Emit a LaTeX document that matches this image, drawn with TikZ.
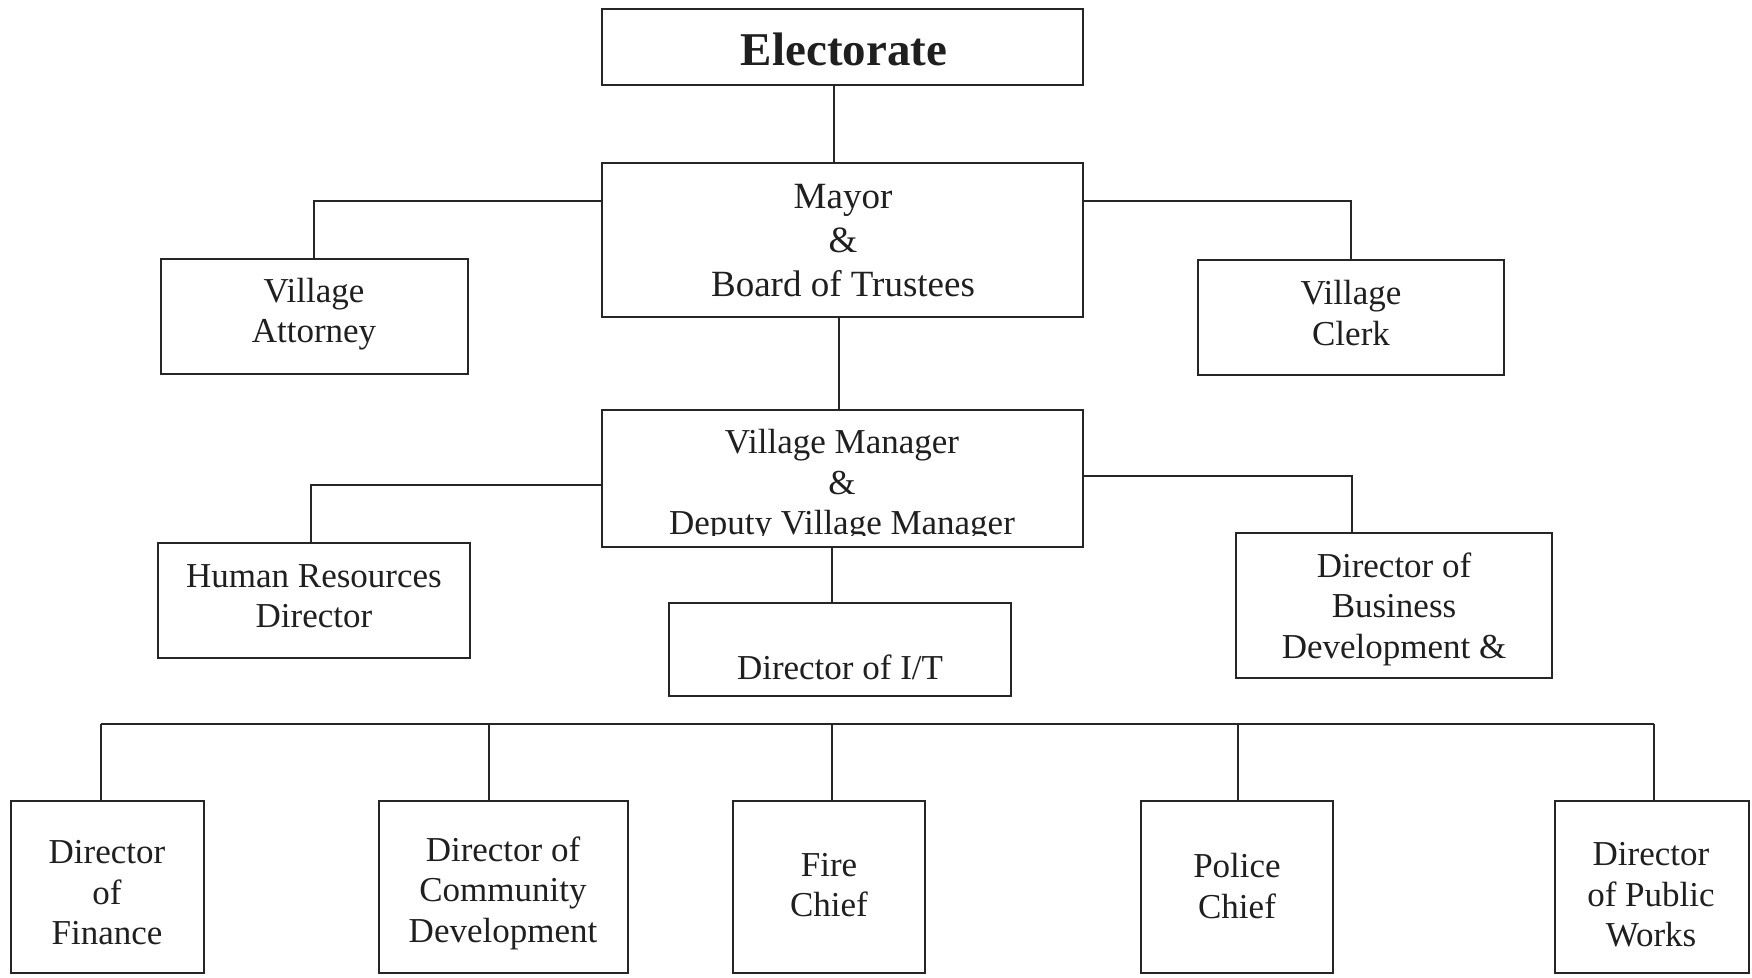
\documentclass[tikz,border=0pt]{standalone}
\usepackage{fontspec}
\setmainfont{Liberation Serif}
\begin{document}
\begin{tikzpicture}[x=1pt,y=-1pt,
  box/.style={draw=black!85, line width=1.7pt, rectangle, inner sep=0pt},
  lbl/.style={align=center, inner sep=0pt, text=black!88,
     font=\fontsize{35}{40.5}\selectfont},
  link/.style={draw=black!85, line width=1.3pt}]
\useasboundingbox (0,0) rectangle (1752,977);
% boxes
\node[box, minimum width=481pt, minimum height=76pt]  (elect)  at (842.5,47) {};
\node[box, minimum width=481pt, minimum height=154pt] (mayor)  at (842.5,240) {};
\node[box, minimum width=307pt, minimum height=115pt] (atty)   at (314.5,316.5) {};
\node[box, minimum width=306pt, minimum height=115pt] (clerk)  at (1351,317.5) {};
\node[box, minimum width=481pt, minimum height=137pt] (vm)     at (842.5,478.5) {};
\node[box, minimum width=312pt, minimum height=115pt] (hr)     at (314,600.5) {};
\node[box, minimum width=342pt, minimum height=93pt]  (it)     at (840,649.5) {};
\node[box, minimum width=316pt, minimum height=145pt] (bd)     at (1394,605.5) {};
\node[box, minimum width=193pt, minimum height=172pt] (fin)    at (107.5,887) {};
\node[box, minimum width=249pt, minimum height=172pt] (cd)     at (503.5,887) {};
\node[box, minimum width=192pt, minimum height=172pt] (fire)   at (829,887) {};
\node[box, minimum width=192pt, minimum height=172pt] (police) at (1237,887) {};
\node[box, minimum width=194pt, minimum height=172pt] (pw)     at (1652,887) {};
% texts
\node[lbl, font=\fontsize{47}{50}\selectfont\bfseries] (telect) at (844,49) {Electorate};
\node[lbl, font=\fontsize{37}{44}\selectfont] (tmayor) at (843,241) {Mayor\\\&\\Board of Trustees};
\node[lbl] (tatty)  at (314,314)  {Village\\Attorney};
\node[lbl] (tclerk) at (1351,313) {Village\\Clerk};
\begin{scope}
\clip (602,410) rectangle (1083,535);
\node[lbl] (tvm) at (842,486) {Village Manager\\\&\\Deputy Village Manager};
\end{scope}
\node[lbl] (thr)  at (314,596)  {Human Resources\\Director};
\node[lbl] (tit)  at (840,667)  {Director of I/T};
\node[lbl] (tbd)  at (1394,609) {Director of\\Business\\Development \&};
\node[lbl] (tfin) at (107,893)  {Director\\of\\Finance};
\node[lbl] (tcd)  at (503,893)  {Director of\\Community\\Development};
\node[lbl] (tfire) at (829,885) {Fire\\Chief};
\node[lbl] (tpol) at (1237,886) {Police\\Chief};
\node[lbl] (tpw)  at (1651,895) {Director\\of Public\\Works};
% connectors
\draw[link] (elect.south -| 834,0) -- (mayor.north -| 834,0);
\draw[link] (mayor.west |- 0,201) -| (atty.north -| 314,0);
\draw[link] (mayor.east |- 0,201) -| (clerk.north);
\draw[link] (mayor.south -| 839,0) -- (vm.north -| 839,0);
\draw[link] (vm.west |- 0,485) -| (hr.north -| 311,0);
\draw[link] (vm.east |- 0,476) -| (bd.north -| 1352,0);
\draw[link] (vm.south -| 832,0) -- (it.north -| 832,0);
% bottom bus
\coordinate (busL) at (101,724);
\coordinate (busR) at (1654,724);
\draw[link] (busL) -- (busR);
\draw[link] (busL) -- (fin.north -| busL);
\draw[link] (cd.north -| 489,0) -- (489,724);
\draw[link] (fire.north -| 832,0) -- (832,724);
\draw[link] (police.north -| 1238,0) -- (1238,724);
\draw[link] (busR) -- (pw.north -| busR);
\end{tikzpicture}
\end{document}
